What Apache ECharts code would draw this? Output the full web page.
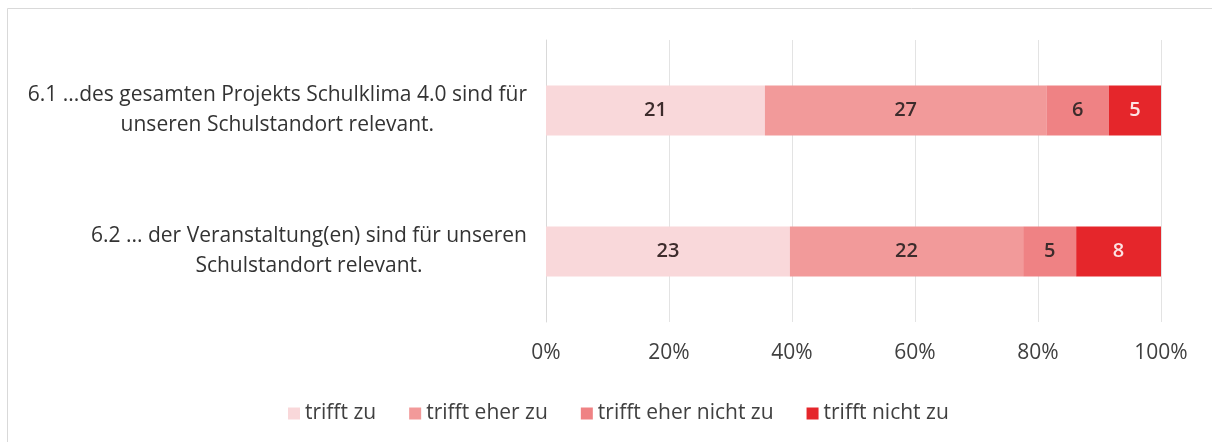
<!DOCTYPE html>
<html>
<head>
<meta charset="utf-8">
<script src="https://cdn.jsdelivr.net/npm/echarts@6/dist/echarts.min.js"></script>
<style>
  html, body { margin: 0; padding: 0; background: #ffffff; }
  #chart { width: 1212px; height: 442px; }
</style>
</head>
<body>
<div id="chart"></div>
<script>
// Survey statements (top to bottom) and answer counts per response option
const categories = [
  '6.1 ...des gesamten Projekts Schulklima 4.0 sind für\nunseren Schulstandort relevant.',
  '6.2 ... der Veranstaltung(en) sind für unseren\nSchulstandort relevant.'
];
const seriesNames = ['trifft zu', 'trifft eher zu', 'trifft eher nicht zu', 'trifft nicht zu'];
const trifftZu = [21, 23];
const trifftEherZu = [27, 22];
const trifftEherNichtZu = [6, 5];
const trifftNichtZu = [5, 8];
const tickLabels = ['0%', '20%', '40%', '60%', '80%', '100%'];

const colors = ['#f9d8da', '#f29a9a', '#ef8284', '#e5262b'];
const labelColors = ['#3d2c2c', '#3d2c2c', '#3d2c2c', '#fde3e3'];
const FONT = 'Open Sans';

const counts = [trifftZu, trifftEherZu, trifftEherNichtZu, trifftNichtZu];
// Each row is drawn as a share of its own total (100% stacked bar)
const totals = categories.map((_, i) => counts.reduce((s, arr) => s + arr[i], 0));

const series = seriesNames.map((name, k) => ({
  name: name,
  type: 'bar',
  stack: 'total',
  barWidth: 50,
  itemStyle: { color: colors[k] },
  label: {
    show: true,
    position: 'inside',
    fontFamily: FONT,
    fontSize: 20,
    fontWeight: 600,
    color: labelColors[k],
    formatter: p => String(counts[k][p.dataIndex])
  },
  emphasis: { disabled: true },
  data: counts[k].map((v, i) => v / totals[i])
}));

const chart = echarts.init(document.getElementById('chart'), null, { renderer: 'canvas' });
chart.setOption({
  animation: false,
  backgroundColor: '#ffffff',
  textStyle: { fontFamily: FONT, color: '#404040' },
  graphic: [{
    type: 'rect',
    shape: { x: 7.5, y: 8.5, width: 1400, height: 800 },
    style: { fill: 'none', stroke: '#d9d9d9', lineWidth: 1 },
    silent: true
  }],
  grid: { left: 546, right: 51, top: 40, bottom: 120 },
  legend: {
    data: seriesNames,
    top: 398,
    left: 283,
    icon: 'rect',
    itemWidth: 12,
    itemHeight: 12,
    itemGap: 33,
    textStyle: { fontFamily: FONT, fontSize: 21, color: '#404040' },
    selectedMode: false
  },
  xAxis: {
    type: 'value',
    min: 0,
    max: 1,
    interval: 0.2,
    axisLine: { show: false },
    axisTick: { show: false },
    splitLine: { show: true, lineStyle: { color: '#e3e3e3', width: 1 } },
    axisLabel: {
      margin: 21,
      fontFamily: FONT,
      fontSize: 21,
      color: '#404040',
      formatter: v => tickLabels[Math.round(v / 0.2)]
    }
  },
  yAxis: {
    type: 'category',
    inverse: true,
    data: categories,
    axisLine: { show: true, lineStyle: { color: '#d9d9d9' } },
    axisTick: { show: false },
    axisLabel: {
      margin: 19,
      fontFamily: FONT,
      fontSize: 21,
      color: '#333333',
      formatter: v => v.split('\n').map(l => '{c|' + l + '}').join('\n'),
      rich: {
        c: { align: 'center', fontFamily: FONT, fontSize: 21, lineHeight: 30, color: '#333333' }
      }
    }
  },
  series: series
});
</script>
</body>
</html>
